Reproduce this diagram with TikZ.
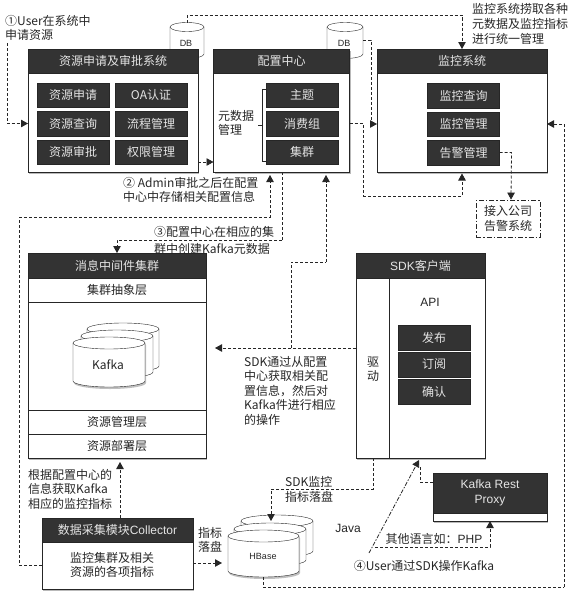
\documentclass[tikz,border=0pt]{standalone}
\usepackage{fontspec}
\setmainfont{Noto Sans CJK SC}
\newfontfamily\latfont{Liberation Sans}
\usetikzlibrary{positioning, arrows.meta, shadows}

\definecolor{barcol}{HTML}{333333}
\definecolor{inkcol}{HTML}{262626}

% name, left, right, top of body, bottom of body, end radius, looks
\newcommand{\drum}[7]{%
  \pgfmathsetmacro{\drumrx}{(#3-#2)/2}%
  \draw[draw=inkcol, fill=white, #7] (#2,#4) arc[start angle=180, end angle=0, x radius=\drumrx pt, y radius=#6pt]
      -- (#3,#5) arc[start angle=0, end angle=-180, x radius=\drumrx pt, y radius=#6pt] -- cycle;
  \draw[draw=inkcol] (#2,#4) arc[start angle=180, end angle=360, x radius=\drumrx pt, y radius=#6pt];
  \coordinate (#1top) at ({(#2+#3)/2},{#4-#6});
  \coordinate (#1low) at ({(#2+#3)/2},{#5+#6});
}

\begin{document}
\begin{tikzpicture}[
  x=1pt, y=-1pt,
  font=\fontsize{12}{14.5}\selectfont,
  text=inkcol,
  >={Triangle[length=7pt, width=7.5pt]},
  node distance=4pt,
  dsh/.style={->, thick, densely dashed, draw=inkcol},
  dshline/.style={thick, densely dashed, draw=inkcol},
  dot/.style={->, thick, dash pattern=on 4pt off 1.5pt on 1.5pt off 1.5pt, draw=inkcol},
  frame/.style={draw=inkcol, thick, fill=white, outer sep=0pt, inner sep=0pt,
                minimum width=#1,
                drop shadow={shadow xshift=1pt, shadow yshift=-1.5pt, opacity=.55}},
  bar/.style={draw=inkcol, fill=barcol, text=white!90!black, outer sep=0pt, inner sep=0pt,
              minimum width=#1, minimum height=24pt, anchor=north},
  cell/.style={draw=inkcol, fill=barcol, text=white!90!black, outer sep=0pt, inner sep=0pt,
               minimum width=72pt, minimum height=24.5pt},
  band/.style={draw=inkcol, thick, fill=white, outer sep=0pt, inner sep=0pt,
               minimum width=178pt, minimum height=24pt, anchor=north},
  drumshade/.style={drop shadow={shadow xshift=1pt, shadow yshift=-2pt, opacity=.5}},
  note/.style={align=left, anchor=north west, inner sep=0pt},
]
\useasboundingbox (0,0) rectangle (574,597);

%% ===== DATABASES BEHIND THE TOP BOXES =====

\drum{dbapply}{170}{204}{27}{54}{4.5}{}
\node[inner sep=0pt] (dbapplytxt) at (186,43) {\latfont\small DB};
\drum{dbconfig}{327}{363}{27}{54}{4.5}{}
\node[inner sep=0pt] (dbconfigtxt) at (344,43) {\latfont\small DB};

%% ===== TOP ROW: APPLY, CONFIG, MONITOR =====

\node[frame=170pt, minimum height=123pt] (apply) at (113,110.5) {};
\node[bar=170pt] (applybar) at (apply.north) {资源申请及审批系统};
\node[cell] (aApply) at (73,95) {资源申请};
\node[cell, below=of aApply] (aQuery) {资源查询};
\node[cell, below=of aQuery] (aAudit) {资源审批};
\node[cell, right=6pt of aApply] (aOA) {OA认证};
\node[cell, below=of aOA] (aFlow) {流程管理};
\node[cell, below=of aFlow] (aPerm) {权限管理};

\node[frame=136pt, minimum height=123pt] (config) at (281.5,110.5) {};
\node[bar=136pt] (configbar) at (config.north) {配置中心};
\node[cell] (cTopic) at (302,95) {主题};
\node[cell, below=of cTopic] (cGroup) {消费组};
\node[cell, below=of cGroup] (cCluster) {集群};
\node[align=left, inner sep=0pt] (metalbl) at (236,123) {元数据\\管理};

\node[frame=170pt, minimum height=123pt] (monitor) at (462,110.5) {};
\node[bar=170pt] (monitorbar) at (monitor.north) {监控系统};
\node[cell] (mQuery) at (463.5,95.5) {监控查询};
\node[cell, below=of mQuery] (mManage) {监控管理};
\node[cell, below=of mManage] (mAlarm) {告警管理};

\node[draw=inkcol, thick, dash pattern=on 5pt off 2pt on 1.5pt off 2pt, align=center,
      inner sep=0pt, minimum width=64pt, minimum height=37pt] (alarm) at (508,218.5)
    {接入公司\\告警系统};

\draw[inkcol] (cTopic.west |- 0,89) -- ++(-4,0) |- (cCluster.west |- 0,161);
\draw[inkcol] (258,125) -- (262,125);

%% ===== MIDDLE: MESSAGE CLUSTER =====

\node[frame=178pt, minimum height=205pt] (cluster) at (117,355.5) {};
\node[bar=178pt, minimum height=25pt] (clusterbar) at (cluster.north) {消息中间件集群};
\node[band] (absl) at (clusterbar.south) {集群抽象层};
\node[band, minimum height=108pt] (kfarea) at (absl.south) {};
\node[band] (mgrl) at (kfarea.south) {资源管理层};
\node[band] (depl) at (mgrl.south) {资源部署层};

\drum{kfback}{87}{159}{329}{366}{6}{}
\drum{kfmid}{81}{153}{336}{372}{6}{}
\drum{kffront}{73}{145}{343}{381}{6}{drumshade}
\node[inner sep=0pt] (kftxt) at (108,365) {Kafka};

%% ===== RIGHT: SDK CLIENT =====

\node[frame=129pt, minimum height=205pt] (sdk) at (420.5,355.5) {};
\node[bar=129pt, minimum height=25pt] (sdkbar) at (sdk.north) {\latfont SDK\rmfamily 客户端};
\draw[inkcol, thick] (389,278) -- (389,458);
\node[align=center, inner sep=0pt] (drv) at (373,369) {驱\\动};
\node[inner sep=0pt] (apilbl) at (430,302) {\latfont API};
\node[cell] (sPub) at (434,337.5) {发布};
\node[cell, below=2.5pt of sPub] (sSub) {订阅};
\node[cell, below=2.5pt of sSub] (sAck) {确认};

%% ===== BOTTOM: PROXY, COLLECTOR, HBASE =====

\node[frame=114pt, minimum height=48pt] (proxy) at (490,497) {};
\node[bar=114pt, minimum height=40pt, align=center] (proxybar) at (proxy.north)
    {\latfont Kafka Rest\\\latfont Proxy};

\node[frame=151pt, minimum height=71pt, align=center, text depth=0pt] (collect) at (117.5,553.5) {};
\node[bar=151pt] (collectbar) at (collect.north) {数据采集模块\latfont Collector};
\node[align=center, inner sep=0pt] (collecttxt) at (112,565) {监控集群及相关\\资源的各项指标};

\drum{hbback}{241}{313}{521}{551}{6}{}
\drum{hbmid}{234}{306}{529}{560}{6}{}
\drum{hbfront}{228}{299}{536}{571}{6}{drumshade}
\node[inner sep=0pt] (hbtxt) at (263,556) {\latfont\small HBase};

%% ===== LABELS =====

\node[note] (userlbl) at (5,15) {①User在系统中\\申请资源};
\node[note] (adminlbl) at (123,177) {② Admin审批之后在配置\\中心中存储相关配置信息};
\node[note] (createlbl) at (154,226) {③配置中心在相应的集\\[3pt]群中创建Kafka元数据};
\node[note] (pulllbl) at (472,3) {监控系统捞取各种\\[.5pt]元数据及监控指标\\[.5pt]进行统一管理};
\node[note] (sdklbl) at (244,356) {SDK通过从配置\\中心获取相关配\\置信息，然后对\\Kafka件进行相应\\的操作};
\node[note] (fetchlbl) at (28,469) {根据配置中心的\\信息获取Kafka\\相应的监控指标};
\node[note] (disklbl) at (198,527) {指标\\落盘};
\node[note] (sdkdisk) at (285,476) {SDK监控\\[1pt]指标落盘};
\node[inner sep=0pt] (javalbl) at (348,528) {\latfont Java};
\node[inner sep=0pt] (phplbl) at (434,539) {其他语言如：\latfont PHP};
\node[inner sep=0pt] (userop) at (424,566) {④User通过SDK操作Kafka};

%% ===== ARROWS =====

\coordinate (userend) at (7,43);
\coordinate (cfgturn) at (363,196);
\coordinate (colturn) at (19,217);
\coordinate (createturn) at (282,240);
\coordinate (sdkturn) at (291,348);
\coordinate (sdkturnb) at (326,262);
\coordinate (javaend) at (369,553);
\coordinate (sdktip) at (419,460);
\coordinate (phpend) at (375,547);
\coordinate (loopa) at (263,587);
\coordinate (loopb) at (564,587);

\draw[dsh] (userend) |- (apply.west |- aQuery.west);
\draw[dsh] ([yshift=-51.5pt]apply.east) -- ([yshift=-51.5pt]config.west);
\draw[dsh] (dbapplytop) -- ++(0,-7.5) -| (monitor.north);
\draw[dsh] (363,40) -- ++(8,0) |- (monitor.west |- mManage.west);
\draw[dshline] (config.east |- cGroup.east) -- (cfgturn |- cGroup.east) -- (cfgturn);
\draw[dsh] (cfgturn) -| ([yshift=-1.5pt]monitor.south);
\draw[dsh] (mAlarm.east) -- ++(12,0) -- (alarm.north -| 511,0);
\draw[dshline] (collect.west |- 0,565) -| (colturn);
\draw[dsh] (colturn) -| ([yshift=-3pt]config.south west -| 270,0);
\draw[dshline] (config.south -| createturn) -- (createturn);
\draw[dsh] (createturn) -| (clusterbar.north);
\draw[dsh] (sdk.west |- sdkturn) -- (215,348);
\draw[dshline] (sdkturn) -- (sdkturn |- sdkturnb) -- (sdkturnb);
\draw[dsh] (sdkturnb) -- ([yshift=-3pt]config.south -| sdkturnb);
\draw[dsh] (sdk.south -| 373,0) -- (373,489) -| ([yshift=-6pt]hbbacktop -| 271,0);
\draw[dsh] (collect.north -| 120,0) -- ([yshift=-4pt]depl.south -| 120,0);
\draw[dsh] (collect.east |- 0,563) -- (222,563);
\draw[dot] (javaend) -- (sdktip);
\draw[dshline] (proxy.west |- 0,482) -- (420,482) -- (420,466);
\draw[dsh] (phpend) -- (490,547) -- (proxy.south -| 490,0);
\draw[dshline] (hbfrontlow -| loopa) -- (loopa) -- (loopb);
\draw[dsh] (loopb) |- (monitor.east |- mManage.east);

\end{tikzpicture}
\end{document}
